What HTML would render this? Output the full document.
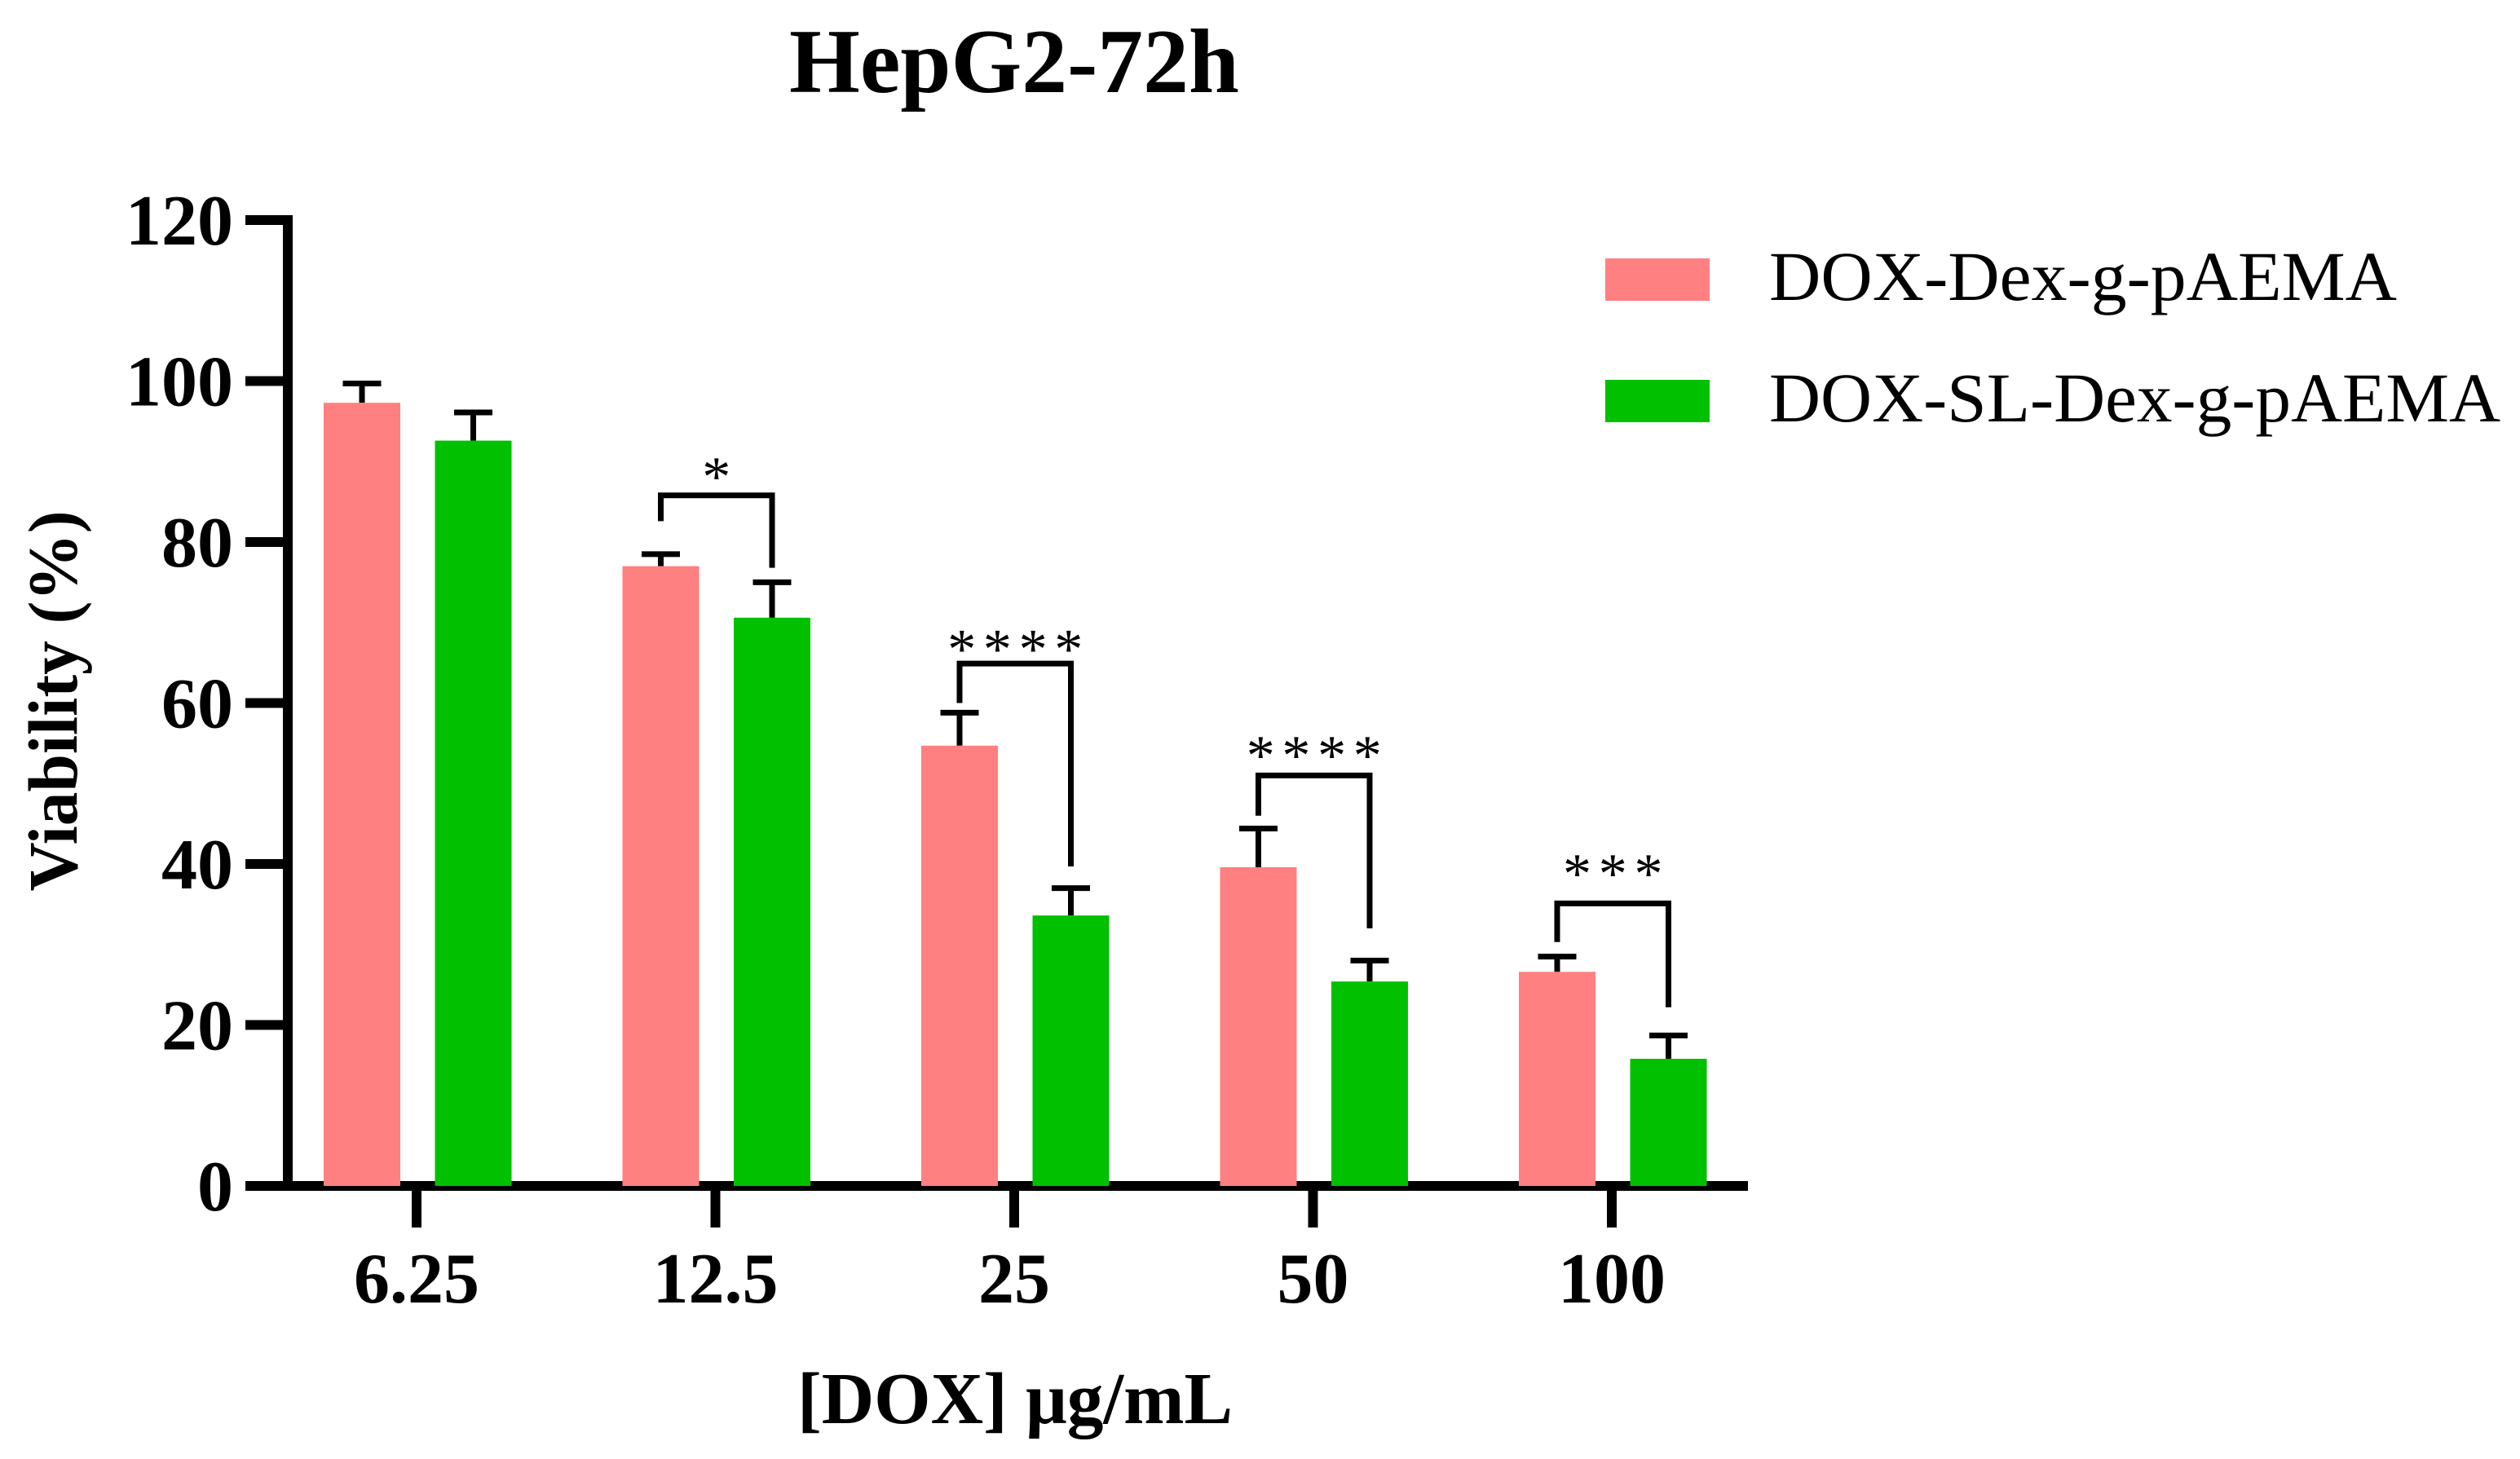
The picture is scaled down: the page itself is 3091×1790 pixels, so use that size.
<!DOCTYPE html>
<html><head><meta charset="utf-8"><style>
html,body{margin:0;padding:0;background:#fff;}
svg{display:block;}
text{font-family:"Liberation Serif",serif;}
</style></head><body>
<svg id="chart" width="3091" height="1790" viewBox="0 0 3091 1790" xmlns="http://www.w3.org/2000/svg">
<text x="1244" y="113" font-size="112" font-weight="bold" text-anchor="middle" textLength="552" lengthAdjust="spacingAndGlyphs">HepG2-72h</text>
<text transform="translate(94,860) rotate(-90)" font-size="86" font-weight="bold" text-anchor="middle" textLength="467" lengthAdjust="spacingAndGlyphs">Viability (%)</text>
<text x="1245" y="1746" font-size="90" font-weight="bold" text-anchor="middle" textLength="534" lengthAdjust="spacingAndGlyphs">[DOX] μg/mL</text>
<g>
<rect x="1969" y="317" width="128" height="52" fill="#FF8080"/>
<text x="2170" y="368" font-size="86" textLength="770" lengthAdjust="spacingAndGlyphs">DOX-Dex-g-pAEMA</text>
<rect x="1969" y="466" width="128" height="52" fill="#00C000"/>
<text x="2170" y="517" font-size="86" textLength="897" lengthAdjust="spacingAndGlyphs">DOX-SL-Dex-g-pAEMA</text>
</g>
<g id="plot"></g>
</svg>
<script>
const categories = ["6.25","12.5","25","50","100"];
const pinkValues = [97.3, 77.0, 54.7, 39.6, 26.6];
const pinkErrors = [99.7, 78.5, 58.8, 44.4, 28.5];
const greenValues = [92.6, 70.6, 33.6, 25.4, 15.8];
const greenErrors = [96.1, 75.0, 37.0, 28.0, 18.7];
const yTicks = [0,20,40,60,80,100,120];
const sigLabels = ["", "*", "****", "****", "***"];
const bracketTop = [null, 85.8, 64.9, 51.0, 35.1];
const bracketLeftEnd = [null, 82.6, 60.0, 46.0, 30.3];
const bracketRightEnd = [null, 76.8, 39.7, 32.0, 22.2];
const starLevel = [null, 89.1, 67.7, 54.5, 39.8];

const NS = "http://www.w3.org/2000/svg";
const g = document.getElementById("plot");
const y = v => 1455 - v * 9.875;
const xc = i => 511 + i * 366.5;
function mk(tag, attrs){const e=document.createElementNS(NS,tag);for(const k in attrs)e.setAttribute(k,attrs[k]);g.appendChild(e);return e;}

let e;
e = mk("line",{x1:353,y1:264,x2:353,y2:1461,stroke:"#000","stroke-width":12});


e = mk("line",{x1:301,y1:1455,x2:2144,y2:1455,stroke:"#000","stroke-width":12});



yTicks.forEach(t=>{
  let tk = mk("line",{x1:301,y1:y(t),x2:353,y2:y(t),stroke:"#000","stroke-width":12});
  
  
  let lb = mk("text",{x:286,y:y(t)+30,"font-size":88,"font-weight":"bold","text-anchor":"end"});
  lb.textContent = t;
  
  
});

categories.forEach((c,i)=>{
  const cx = xc(i);
  let tk = mk("line",{x1:cx,y1:1455,x2:cx,y2:1506,stroke:"#000","stroke-width":12});
  
  
  let lb = mk("text",{x:cx,y:1598,"font-size":88,"font-weight":"bold","text-anchor":"middle"});
  lb.textContent = c;
  
  

  const pc = cx - 67, gc = cx + 69.5;
  [[pc,pinkValues[i],pinkErrors[i]],[gc,greenValues[i],greenErrors[i]]].forEach(([bx,v,er])=>{
    let s = mk("line",{x1:bx,y1:y(v),x2:bx,y2:y(er),stroke:"#000","stroke-width":7});
    
    
    let cap = mk("line",{x1:bx-23.5,y1:y(er),x2:bx+23.5,y2:y(er),stroke:"#000","stroke-width":7});
    
    
  });
  let bp = mk("rect",{x:pc-47,y:y(pinkValues[i]),width:94,height:y(0)-y(pinkValues[i]),fill:"#FF8080"});
  
  
  let bg = mk("rect",{x:gc-47,y:y(greenValues[i]),width:94,height:y(0)-y(greenValues[i]),fill:"#00C000"});
  
  

  if (sigLabels[i]) {
    let br = mk("polyline",{points:`${pc},${y(bracketLeftEnd[i])} ${pc},${y(bracketTop[i])} ${gc},${y(bracketTop[i])} ${gc},${y(bracketRightEnd[i])}`,fill:"none",stroke:"#000","stroke-width":7,"stroke-linejoin":"miter"});
    
    
    const n = sigLabels[i].length;
    const mid = (pc+gc)/2;
    for (let k=0;k<n;k++){
      const sx = mid + (k-(n-1)/2)*43.7;
      let st = mk("text",{x:sx,y:y(starLevel[i])+33,"font-size":70,"text-anchor":"middle"});
      st.textContent = "*";
      
      
    }
  }
});
</script>
</body></html>
